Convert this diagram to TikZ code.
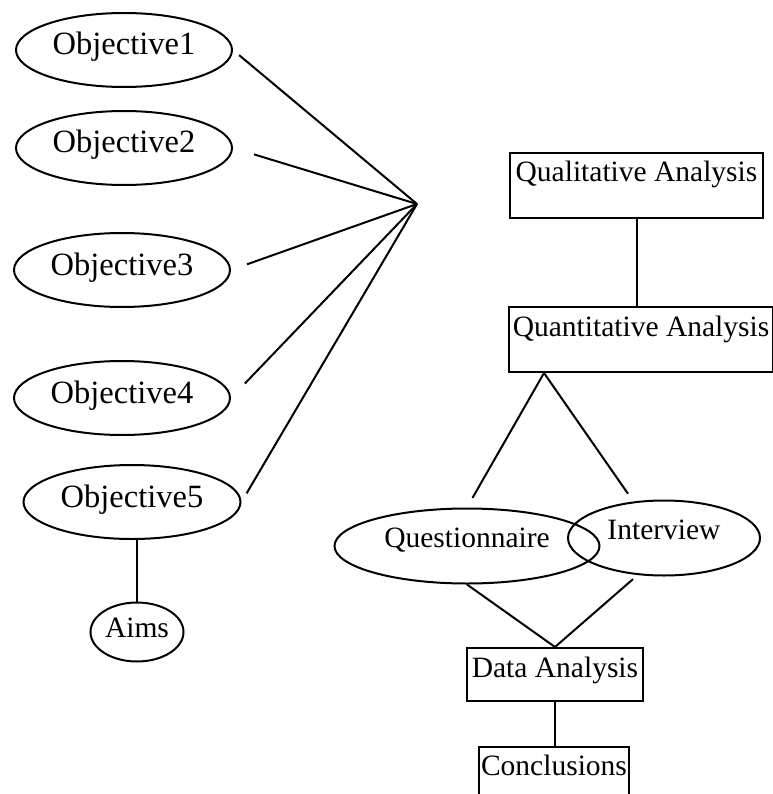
\documentclass[tikz,border=0pt]{standalone}
\usepackage{fontspec}
\setmainfont{Liberation Serif}
\usepackage{tikz}
\usetikzlibrary{shapes.geometric, positioning, calc}
\tikzset{
  goal/.style={ellipse, draw, line width=2pt, inner sep=0pt,
    minimum width=216pt, minimum height=74pt,
    font=\fontsize{32.5}{38}\selectfont, text height=21pt, text depth=11pt},
  tool/.style={ellipse, draw, line width=2pt, inner sep=0pt,
    minimum height=75pt, font=\fontsize{29.5}{34}\selectfont,
    text height=20pt, text depth=17pt},
  stage/.style={rectangle, draw, line width=2pt, inner sep=0pt,
    font=\fontsize{29.5}{34}\selectfont, text height=29pt},
  link/.style={line width=2pt},
}

\begin{document}
\begin{tikzpicture}[x=1pt, y=-1pt]
  \useasboundingbox (0,0) rectangle (772,794);
  \node[goal] (obj1) at (124,50) {Objective1};
  \node[goal] (obj2) at (124,148) {Objective2};
  \node[goal] (obj3) at (122,270) {Objective3};
  \node[goal] (obj4) at (122,398) {Objective4};
  \node[goal, minimum width=217pt] (obj5) at (132,502) {Objective5};
  \node[goal, minimum width=93pt, minimum height=59pt,
        font=\fontsize{29.5}{34}\selectfont, text height=20pt,
        text depth=10pt] (aims) at (137,632) {Aims};
  \coordinate (hub) at (417,204);
  \draw[link, shorten <=8pt] (obj1.east) -- (hub);
  \draw[link, shorten <=22pt] (obj2.east) -- (hub);
  \draw[link, shorten <=17pt] (obj3.east) -- (hub);
  \draw[link, shorten <=20pt] (obj4.east) -- (hub);
  \draw[link, shorten <=10pt] (obj5.east) -- (hub);
  \draw[link] (aims.north) -- (aims.north |- obj5.south);

  \node[stage, minimum width=253pt, text depth=36pt] (qual) at (636.5,185.5)
    {Qualitative Analysis};
  \node[stage, minimum width=264pt, text depth=36pt] (quant) at (641,339.5)
    {Quantitative Analysis};
  \node[tool, minimum width=265pt, text depth=18pt] (quest) at (467,546)
    {Questionnaire};
  \node[tool, minimum width=192pt] (inter) at (664,538) {Interview};
  \node[stage, minimum width=176pt, text depth=24pt] (data) at (555,674.5)
    {Data Analysis};
  \node[stage, minimum width=150pt, text height=28pt, text depth=24pt]
    (concl) at (554,773) {Conclusions};
  \draw[link] (qual.south) -- (qual.south |- quant.north);
  \draw[link, shorten >=11pt] ([xshift=36pt]quant.south west) -- (quest.north);
  \draw[link, shorten >=7pt] ([xshift=36pt]quant.south west)
    -- ([xshift=-32pt]inter.north);
  \draw[link] (quest.south) -- (data.north);
  \draw[link, shorten <=4pt] ([xshift=-28pt]inter.south) -- (data.north);
  \draw[link] (data.south) -- (data.south |- concl.north);
\end{tikzpicture}
\end{document}
